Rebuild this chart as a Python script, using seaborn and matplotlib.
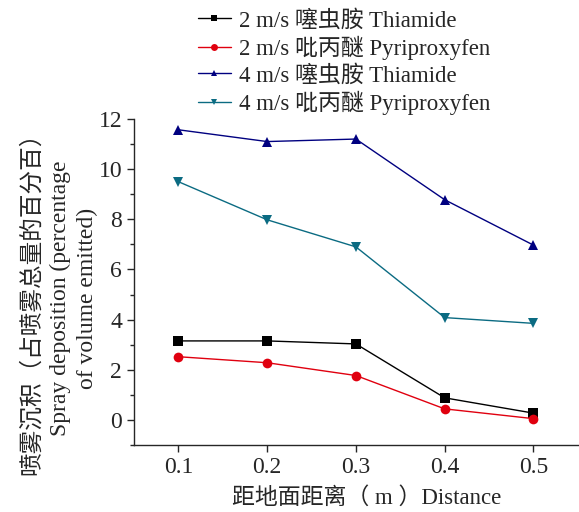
import numpy as np
import pandas as pd
import matplotlib
matplotlib.use('agg')
import matplotlib.pyplot as plt
import seaborn as sns
from matplotlib.ticker import MultipleLocator

# data
distance = [0.1, 0.2, 0.3, 0.4, 0.5]
series_names = ["2 m/s 噻虫胺 Thiamide",
                "2 m/s 吡丙醚 Pyriproxyfen",
                "4 m/s 噻虫胺 Thiamide",
                "4 m/s 吡丙醚 Pyriproxyfen"]
thiamide_2 = [3.15, 3.15, 3.03, 0.88, 0.27]
pyri_2 = [2.52, 2.28, 1.77, 0.44, 0.05]
thiamide_4 = [11.57, 11.1, 11.2, 8.78, 6.97]
pyri_4 = [9.5, 7.98, 6.9, 4.08, 3.85]

colors = ["#000000", "#e0000f", "#000080", "#0b6b82"]
markers = ["s", "o", "^", "v"]

sns.set_style("ticks")
plt.rcParams['font.family'] = ['Liberation Serif', 'Noto Sans CJK SC']
plt.rcParams['axes.unicode_minus'] = False

rows = []
for name, vals in zip(series_names, [thiamide_2, pyri_2, thiamide_4, pyri_4]):
    for d, v in zip(distance, vals):
        rows.append({"distance": d, "value": v, "series": name})
df = pd.DataFrame(rows)

fig = plt.figure(figsize=(5.79, 5.12), dpi=100)
ax = fig.add_axes([0.2314, 0.1309, 0.7666, 0.6367])

sns.lineplot(data=df, x="distance", y="value", hue="series", style="series",
             hue_order=series_names, style_order=series_names,
             palette=dict(zip(series_names, colors)),
             markers=dict(zip(series_names, markers)),
             dashes=False, markersize=7, markeredgewidth=0, linewidth=1.0,
             ax=ax)

ax.set_xlim(0.05, 0.55)
ax.set_ylim(-1, 12)
ax.set_xticks(distance)
ax.set_xticklabels(["0.1", "0.2", "0.3", "0.4", "0.5"])
ax.yaxis.set_major_locator(MultipleLocator(2))
ax.yaxis.set_minor_locator(MultipleLocator(1))
ax.tick_params(axis='both', which='major', labelsize=17, length=5, width=1, direction='out')
ax.tick_params(axis='y', which='minor', length=3, width=1, direction='out')
sns.despine(ax=ax)
for sp in ax.spines.values():
    sp.set_linewidth(1.0)

ax.set_xlabel("距地面距离（ m ）Distance", fontsize=16.5)
ax.xaxis.set_label_coords(0.525, -0.13)
ax.set_ylabel("喷雾沉积（占喷雾总量的百分百）\nSpray deposition (percentage\nof volume emitted)",
              fontsize=17, linespacing=1.4)
ax.yaxis.set_label_coords(-0.08, 0.45)

handles, labels = ax.get_legend_handles_labels()
for h in handles:
    h.set_markersize(5)
leg = ax.legend(handles, labels, loc='upper left', bbox_to_anchor=(0.318, 1.008),
                bbox_transform=fig.transFigure, frameon=False, fontsize=16.5,
                handlelength=1.45, handletextpad=0.35, labelspacing=0.2,
                borderaxespad=0.2)

fig.savefig("out.png", dpi=100)
